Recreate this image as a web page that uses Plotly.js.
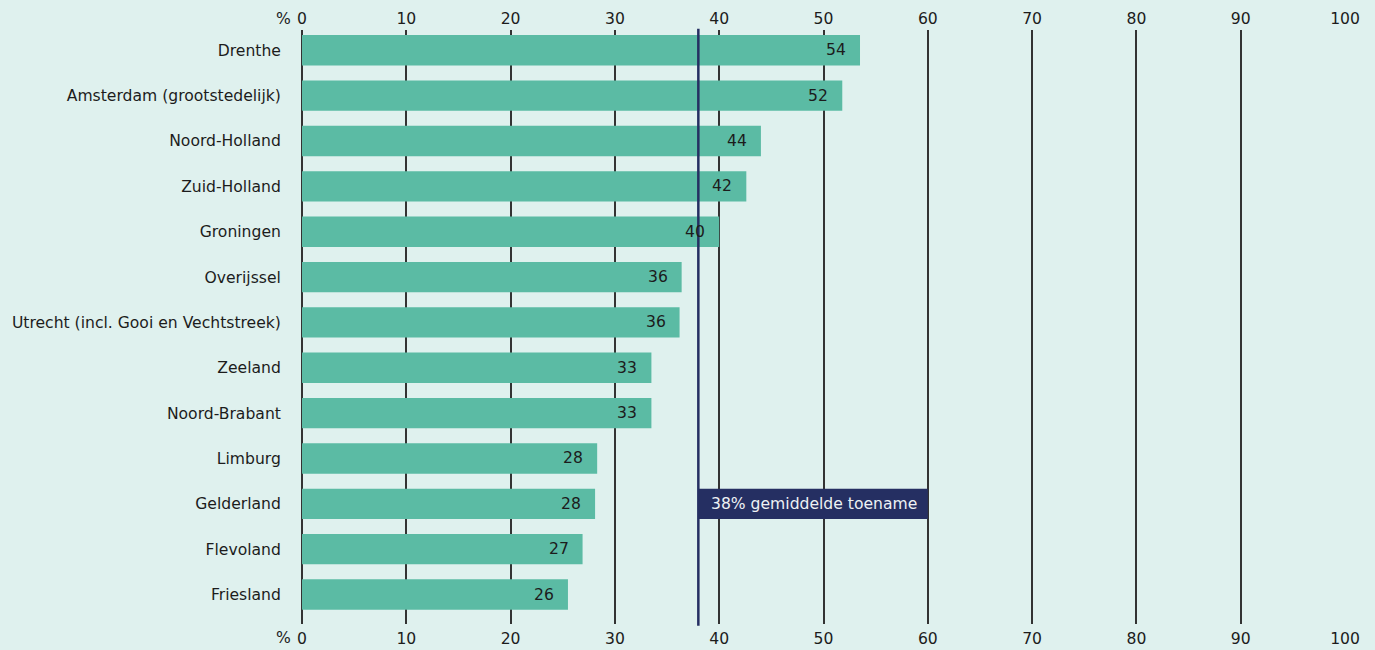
<!DOCTYPE html>
<html><head><meta charset="utf-8">
<script src="https://cdn.plot.ly/plotly-3.0.1.min.js"></script>
<style>html,body{margin:0;padding:0;background:#dff1ee;}</style>
</head><body><div id="chart" style="width:1375px;height:650px;"></div>
<script>
const regions = ["Drenthe","Amsterdam (grootstedelijk)","Noord-Holland","Zuid-Holland","Groningen","Overijssel","Utrecht (incl. Gooi en Vechtstreek)","Zeeland","Noord-Brabant","Limburg","Gelderland","Flevoland","Friesland"];
const values = [53.5, 51.8, 44.0, 42.6, 40.0, 36.4, 36.2, 33.5, 33.5, 28.3, 28.1, 26.9, 25.5];
const labels = ["54","52","44","42","40","36","36","33","33","28","28","27","26"];
const average = 38;
const averageText = "38% gemiddelde toename";
const averageRow = "Gelderland";
const averageBoxEnd = 60;
const xTicks = [0,10,20,30,40,50,60,70,80,90,100];

const font = {family: "'DejaVu Sans', sans-serif", size: 15.6, color: "#1c1c1c"};
const bar = {type:"bar", orientation:"h", x: values, y: regions, marker:{color:"#5bbba4"}, width:0.67, hoverinfo:"skip", xaxis:"x", yaxis:"y"};
const ghost = {type:"scatter", mode:"markers", x: values, y: regions, marker:{opacity:0}, hoverinfo:"skip", xaxis:"x2", yaxis:"y", showlegend:false};

const rowIdx = regions.indexOf(averageRow);
const annotations = values.map((v,i)=>({x:v, y:regions[i], xref:"x", yref:"y", text:labels[i], showarrow:false, xanchor:"right", xshift:-12, font:font}));
annotations.push({x:average, y:averageRow, xref:"x", yref:"y", text:averageText, showarrow:false, xanchor:"left", xshift:11, font:{family:font.family, size:15.6, color:"#eef2f4"}});
annotations.push({x:0, y:1, xref:"x", yref:"paper", text:"%", showarrow:false, xanchor:"right", yanchor:"middle", xshift:-9, yshift:11, font:font});
annotations.push({x:0, y:0, xref:"x", yref:"paper", text:"%", showarrow:false, xanchor:"right", yanchor:"middle", xshift:-9, yshift:-14, font:font});

const layout = {
  width:1375, height:650,
  paper_bgcolor:"#dff1ee", plot_bgcolor:"#dff1ee",
  margin:{l:302, r:30, t:30, b:26},
  font: font,
  showlegend:false,
  xaxis:{range:[0,100], tickvals:xTicks, showgrid:true, gridcolor:"#333333", gridwidth:2, zeroline:true, zerolinecolor:"#333333", zerolinewidth:2, showline:false, ticks:"", side:"bottom", tickfont:font, ticklabelstandoff:3, fixedrange:true},
  xaxis2:{range:[0,100], tickvals:xTicks, overlaying:"x", side:"top", showgrid:false, zeroline:false, showline:false, ticks:"", tickfont:font, ticklabelstandoff:2, matches:"x"},
  yaxis:{type:"category", categoryorder:"array", categoryarray:regions, range:[12.65,-0.448], showgrid:false, zeroline:false, showline:false, ticks:"outside", ticklen:17, tickcolor:"rgba(0,0,0,0)", tickfont:font},
  shapes:[
    {type:"rect", xref:"x", yref:"y", x0:average, x1:averageBoxEnd, y0:rowIdx-0.335, y1:rowIdx+0.335, fillcolor:"#252f62", line:{width:0}, layer:"above"},
    {type:"line", xref:"x", yref:"paper", x0:average, x1:average, y0:-0.003, y1:1.002, line:{color:"#252f62", width:2.5}, layer:"above"}
  ],
  annotations: annotations
};
Plotly.newPlot("chart", [bar, ghost], layout, {displayModeBar:false, staticPlot:true});
</script></body></html>
